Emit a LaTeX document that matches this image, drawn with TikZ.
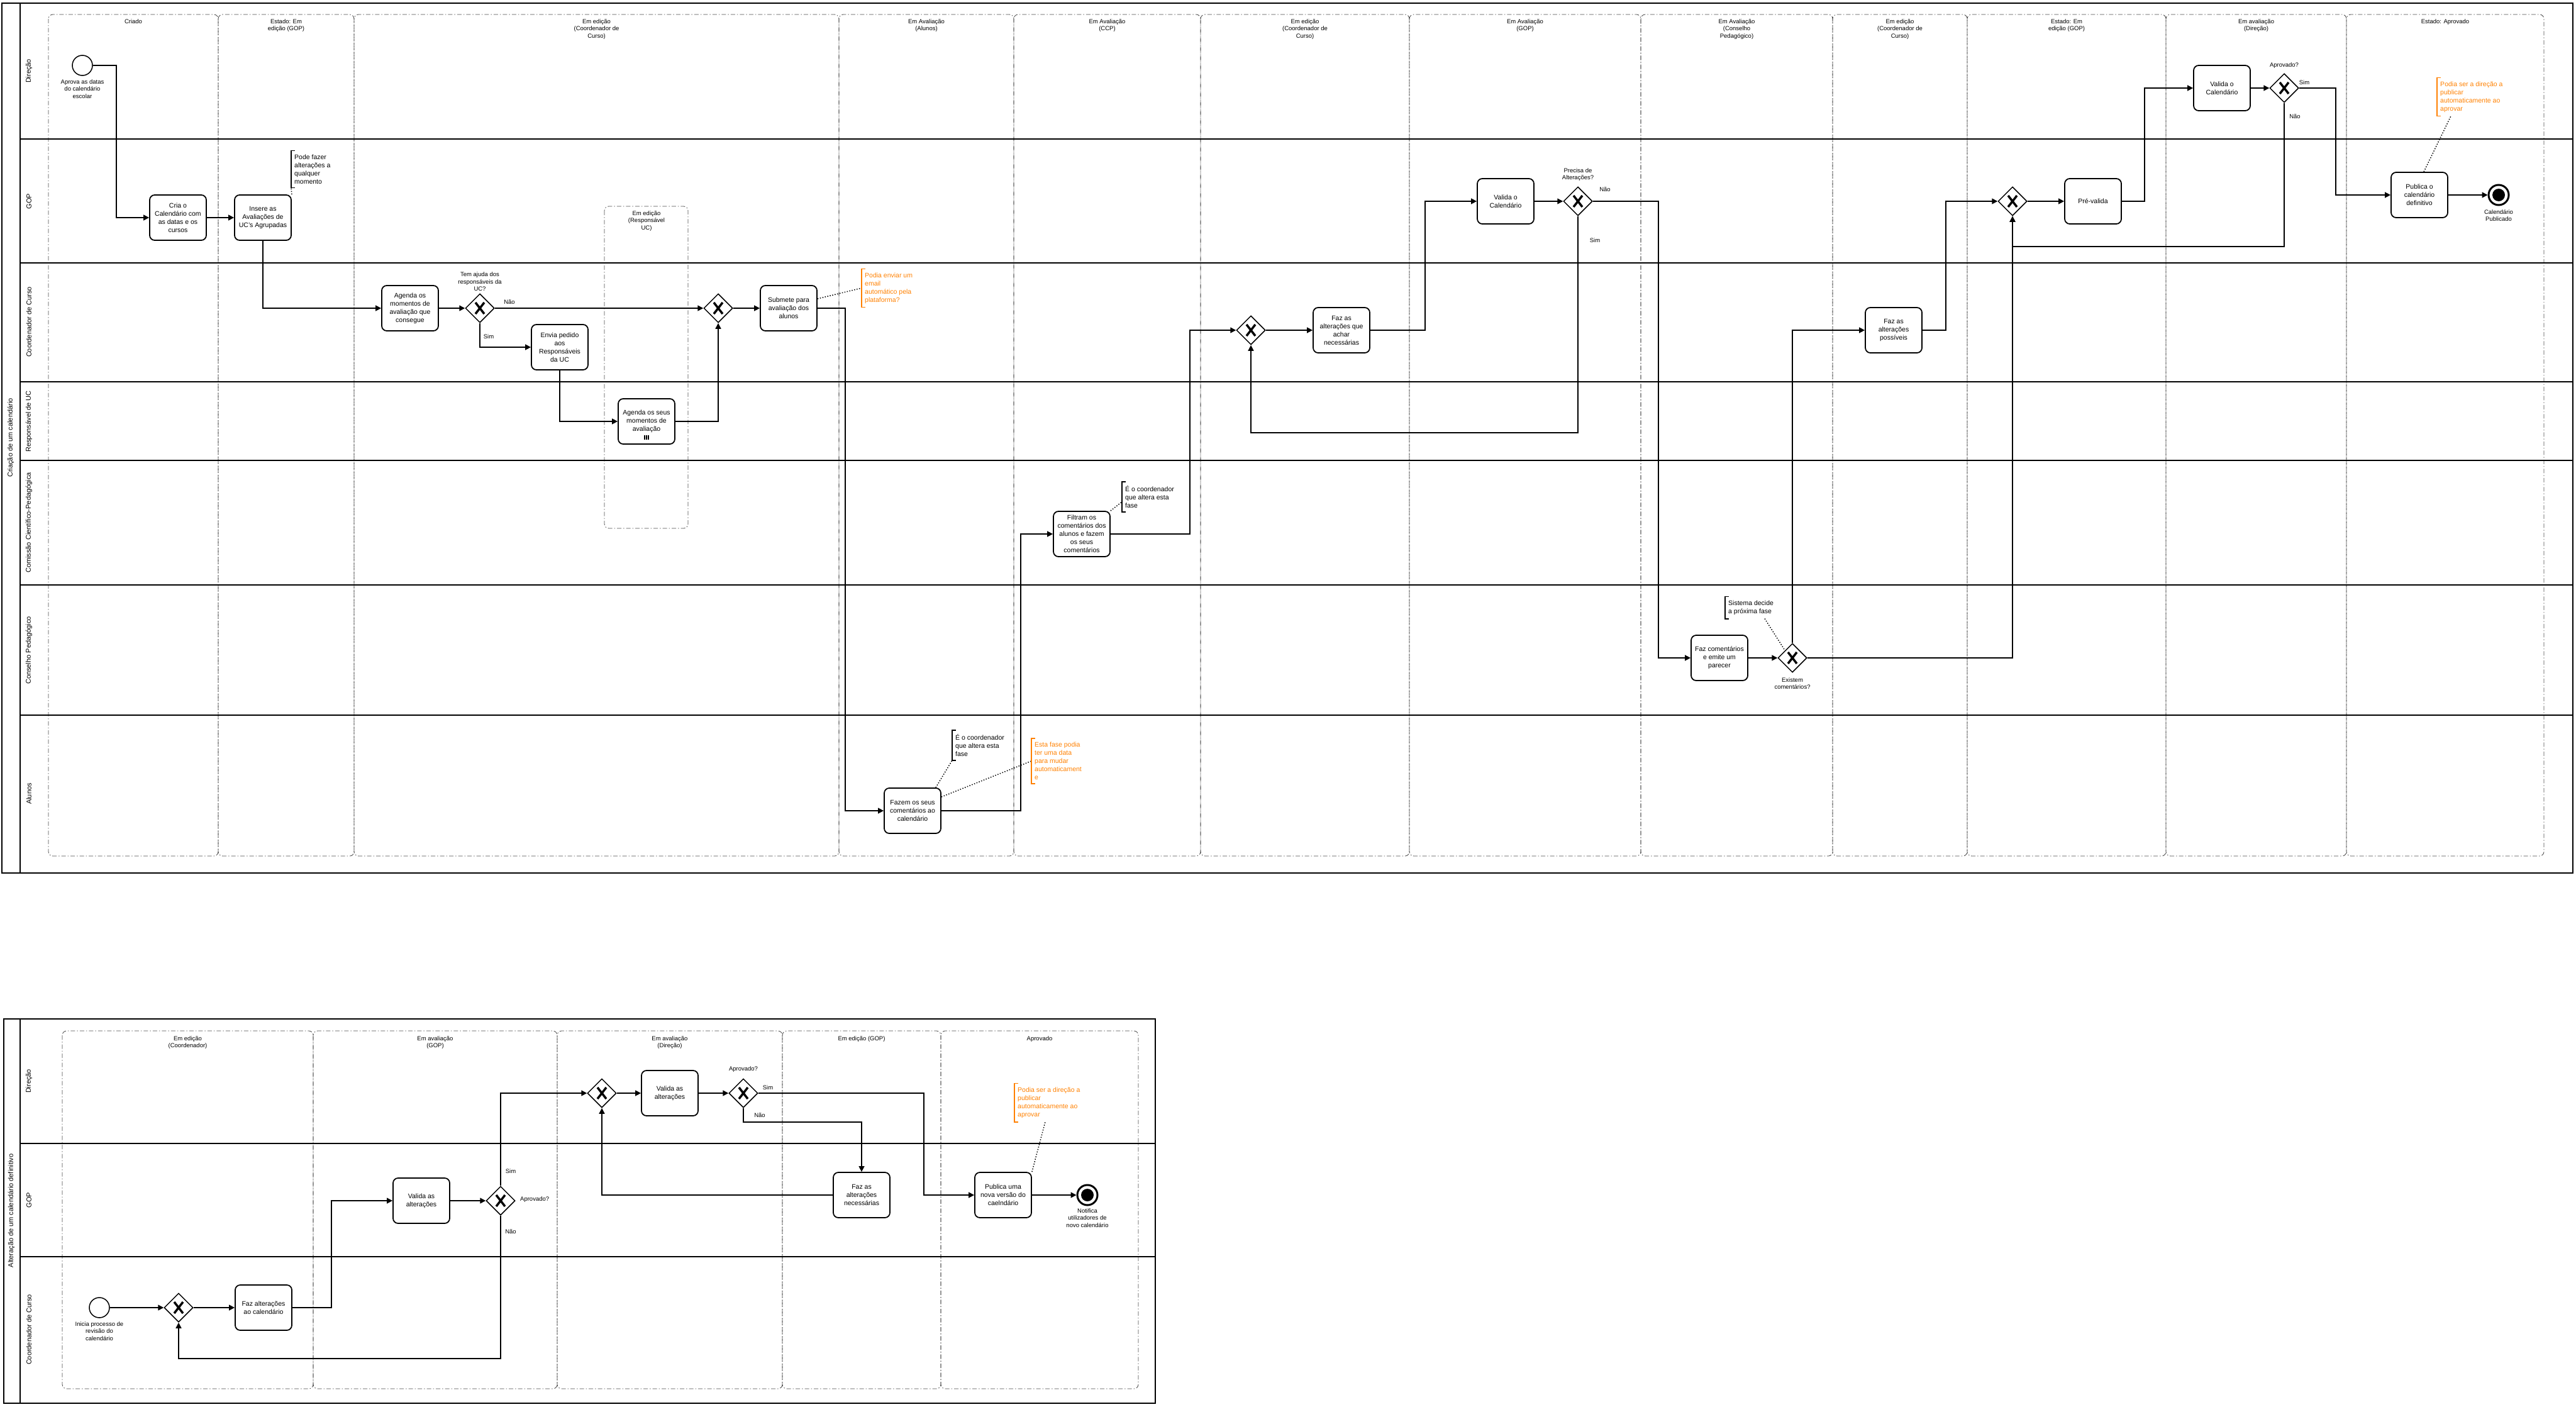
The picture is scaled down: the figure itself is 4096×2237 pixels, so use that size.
\documentclass[tikz,border=0pt]{standalone}
\usepackage{fontspec}
\setmainfont{Liberation Sans}
\usepackage{tikz}
\usetikzlibrary{calc}
\usetikzlibrary{positioning}
\usetikzlibrary{arrows.meta}
\usetikzlibrary{shapes.geometric}

\definecolor{noteorange}{RGB}{255,128,0}
\definecolor{phasegray}{RGB}{70,70,70}

\tikzset{
  pool/.style={draw, line width=2pt},
  laneline/.style={line width=2pt},
  lanelbl/.style={rotate=90, inner sep=0pt, font=\fontsize{11}{13}\selectfont},
  phase/.style={draw=phasegray, line width=0.8pt, rounded corners=7pt, dash pattern=on 7pt off 3pt on 1.5pt off 3pt},
  phaselbl/.style={anchor=north, align=center, inner sep=0pt, font=\fontsize{9.5}{11.5}\selectfont},
  task/.style={draw, line width=1.8pt, rounded corners=8pt, fill=white, minimum width=90pt, minimum height=72pt, align=center, inner sep=2pt, font=\fontsize{10.5}{13}\selectfont},
  gateway/.style={draw, diamond, line width=1.5pt, fill=white, minimum size=46pt, inner sep=0pt,
    path picture={\draw[line width=3.5pt] ([shift={(-7pt,-9pt)}]path picture bounding box.center) -- ([shift={(7pt,9pt)}]path picture bounding box.center)
      ([shift={(-7pt,9pt)}]path picture bounding box.center) -- ([shift={(7pt,-9pt)}]path picture bounding box.center);}},
  startev/.style={draw, circle, line width=1.5pt, fill=white, minimum size=32pt, inner sep=0pt},
  endev/.style={draw, circle, line width=3pt, fill=white, minimum size=32pt, inner sep=0pt,
    path picture={\fill[black] (path picture bounding box.center) circle (10pt);}},
  evlbl/.style={align=center, inner sep=0pt, font=\fontsize{9.5}{11.5}\selectfont},
  flowlbl/.style={inner sep=0pt, font=\fontsize{9.5}{11.5}\selectfont},
  flow/.style={line width=1.5pt, -{Triangle[length=9pt,width=9pt]}},
  assoc/.style={line width=1.5pt, dash pattern=on 1.5pt off 2.5pt},
  note/.style={anchor=west, align=left, inner xsep=5pt, inner ysep=6pt, font=\fontsize{10.5}{13}\selectfont},
  bracket/.style={line width=1.8pt},
}

\begin{document}
\begin{tikzpicture}[x=1pt,y=-1pt]
\useasboundingbox (0,0) rectangle (4096,2237);

\foreach \xa/\xb/\txt in {77/347/{Criado}, 347/563/{Estado: Em\\edição (GOP)}, 563/1334/{Em edição\\(Coordenador de\\Curso)},
  1334/1612/{Em Avaliação\\(Alunos)}, 1612/1909/{Em Avaliação\\(CCP)}, 1909/2241/{Em edição\\(Coordenador de\\Curso)},
  2241/2609/{Em Avaliação\\(GOP)}, 2609/2914/{Em Avaliação\\(Conselho\\Pedagógico)}, 2914/3128/{Em edição\\(Coordenador de\\Curso)},
  3128/3444/{Estado: Em\\edição (GOP)}, 3444/3731/{Em avaliação\\(Direção)}, 3731/4045/{Estado: Aprovado}}
{
\draw[phase] (\xa,23) rectangle (\xb,1361);
\node[phaselbl] (ph\xa) at ({(\xa+\xb)/2},30) {\txt};
}
\draw[phase] (961,328) rectangle (1094,840);
\node[phaselbl] (phResp) at (1028,335) {Em edição\\(Responsável\\UC)};

\draw[pool] (3,5) rectangle (4091,1388);
\draw[laneline] (32,5) -- (32,1388);
\foreach \ly in {221,418,607,732,930,1137}
\draw[laneline] (32,\ly) -- (4091,\ly);
\node[lanelbl] (poolA) at (17,696) {Criação de um calendário};
\foreach \ly/\lname in {113/Direção, 320/GOP, 512/Coordenador de Curso, 670/Responsável de UC,
  831/Comissão Científico-Pedagógica, 1034/Conselho Pedagógico, 1262/Alunos}
\node[lanelbl] (laneA\ly) at (46,\ly) {\lname};

\node[startev] (startA) at (131,104) {};
\node[evlbl, anchor=north] (lblStartA) at (131,126) {Aprova as datas\\do calendário\\escolar};
\node[task] (criaCal) at (283,346) {Cria o\\Calendário com\\as datas e os\\cursos};
\node[task] (insere) at (418,346) {Insere as\\Avaliações de\\UC's Agrupadas};
\node[task] (agenda) at (652,490) {Agenda os\\momentos de\\avaliação que\\consegue};
\node[gateway] (gwAjuda) at (763,490) {};
\node[evlbl, anchor=south] (lblAjuda) at (763,463) {Tem ajuda dos\\responsáveis da\\UC?};
\node[task] (envia) at (890,552) {Envia pedido\\aos\\Responsáveis\\da UC};
\node[task] (agSeus) at (1028,670) {Agenda os seus\\momentos de\\avaliação};
\node[gateway] (gwMerge) at (1142,490) {};
\node[task] (submete) at (1254,490) {Submete para\\avaliação dos\\alunos};
\node[task] (fazem) at (1451,1289) {Fazem os seus\\comentários ao\\calendário};
\node[task] (filtram) at (1720,849) {Filtram os\\comentários dos\\alunos e fazem\\os seus\\comentários};
\node[gateway] (gwAlt) at (1989,525) {};
\node[task] (fazAchar) at (2133,525) {Faz as\\alterações que\\achar\\necessárias};
\node[task] (validaGOP) at (2394,320) {Valida o\\Calendário};
\node[gateway] (gwPrecisa) at (2509,320) {};
\node[evlbl, anchor=south] (lblPrecisa) at (2509,288) {Precisa de\\Alterações?};
\node[task] (fazComent) at (2734,1046) {Faz comentários\\e emite um\\parecer};
\node[gateway] (gwExistem) at (2850,1046) {};
\node[evlbl, anchor=north] (lblExistem) at (2850,1077) {Existem\\comentários?};
\node[task] (fazPossiveis) at (3011,525) {Faz as\\alterações\\possíveis};
\node[gateway] (gwPre) at (3200,320) {};
\node[task] (prevalida) at (3328,320) {Pré-valida};
\node[task] (validaDir) at (3533,140) {Valida o\\Calendário};
\node[gateway] (gwAprov) at (3632,140) {};
\node[evlbl] (lblAprov) at (3632,104) {Aprovado?};
\node[task] (publica) at (3847,310) {Publica o\\calendário\\definitivo};
\node[endev] (endA) at (3973,310) {};
\node[evlbl, anchor=north] (lblEndA) at (3973,333) {Calendário\\Publicado};

\foreach \dx in {-3,0,3}
\draw[line width=1.2pt] ([xshift=\dx pt, yshift=8pt]agSeus.south) -- ++(0pt,7pt);

\node[flowlbl] (naoAjuda) at (810,480) {Não};
\node[flowlbl] (simAjuda) at (777,535) {Sim};
\node[flowlbl] (naoPrecisa) at (2552,301) {Não};
\node[flowlbl] (simPrecisa) at (2536,382) {Sim};
\node[flowlbl] (simAprov) at (3664,131) {Sim};
\node[flowlbl] (naoAprov) at (3649,185) {Não};

\node[note] (note1) at (463,269) {Pode fazer\\alterações a\\qualquer\\momento};
\node[note, text=noteorange] (noteEmail) at (1370,458) {Podia enviar um\\email\\automático pela\\plataforma?};
\node[note] (noteCoord1) at (1514,1185) {É o coordenador\\que altera esta\\fase};
\node[note, text=noteorange] (noteData) at (1640,1210) {Esta fase podia\\ter uma data\\para mudar\\automaticament\\e};
\node[note] (noteCoord2) at (1784,790) {É o coordenador\\que altera esta\\fase};
\node[note] (noteSistema) at (2743,966) {Sistema decide\\a próxima fase};
\node[note, text=noteorange] (noteDir) at (3875,154) {Podia ser a direção a\\publicar\\automaticamente ao\\aprovar};

\draw[flow] (startA.east) -- ++(37,0) |- (criaCal.west);
\draw[flow] (criaCal) -- (insere);
\draw[flow] (insere.south) |- (agenda.west);
\draw[flow] (agenda) -- (gwAjuda);
\draw[flow] (gwAjuda) -- (gwMerge);
\draw[flow] (gwAjuda.south) |- (envia.west);
\draw[flow] (envia.south) |- (agSeus.west);
\draw[flow] (agSeus.east) -| (gwMerge.south);
\draw[flow] (gwMerge) -- (submete);
\draw[flow] (submete.east) -- ++(44,0) |- (fazem.west);
\draw[flow] (fazem.east) -- ++(126,0) |- (filtram.west);
\draw[flow] (filtram.east) -- ++(126,0) |- (gwAlt.west);
\draw[flow] (gwAlt) -- (fazAchar);
\draw[flow] (fazAchar.east) -- ++(87,0) |- (validaGOP.west);
\draw[flow] (validaGOP) -- (gwPrecisa);
\draw[flow] (gwPrecisa.east) -- ++(104,0) |- (fazComent.west);
\draw[flow] (gwPrecisa.south) -- ++(0,344) -| (gwAlt.south);
\draw[flow] (fazComent) -- (gwExistem);
\draw[flow] (gwExistem.north) |- (fazPossiveis.west);
\draw[flow] (gwExistem.east) -| (gwPre.south);
\draw[flow] (fazPossiveis.east) -- ++(37,0) |- (gwPre.west);
\draw[flow] (gwPre) -- (prevalida);
\draw[flow] (prevalida.east) -- ++(36,0) |- (validaDir.west);
\draw[flow] (validaDir) -- (gwAprov);
\draw[flow] (gwAprov.east) -- ++(58,0) |- (publica.west);
\draw[flow] (gwAprov.south) -- ++(0,228) -| (gwPre.south);
\draw[flow] (publica) -- (endA);

\draw[assoc] (insere.north east) -- (note1.south west);
\draw[assoc] ([yshift=15pt]submete.east) -- (noteEmail.west);
\draw[assoc] ([xshift=-9pt]fazem.north east) -- (noteCoord1.south west);
\draw[assoc] ([yshift=22pt]fazem.east) -- (noteData.west);
\draw[assoc] (filtram.north east) -- ([yshift=16pt]noteCoord2.south west);
\draw[assoc] ([xshift=63pt]noteSistema.south west) -- (gwExistem.north west);
\draw[assoc] ([xshift=7pt]publica.north) -- ([xshift=22pt]noteDir.south west);

\foreach \nt in {note1, noteCoord1, noteCoord2, noteSistema}
\draw[bracket] ([xshift=6pt]\nt.north west) -- (\nt.north west) -- (\nt.south west) -- ([xshift=6pt]\nt.south west);
\foreach \nt in {noteEmail, noteData, noteDir}
\draw[bracket, noteorange] ([xshift=6pt]\nt.north west) -- (\nt.north west) -- (\nt.south west) -- ([xshift=6pt]\nt.south west);

\foreach \xa/\xb/\txt in {99/498/{Em edição\\(Coordenador)}, 498/886/{Em avaliação\\(GOP)}, 886/1244/{Em avaliação\\(Direção)},
  1244/1496/{Em edição (GOP)}, 1496/1810/{Aprovado}}
{
\draw[phase] (\xa,1639) rectangle (\xb,2208);
\node[phaselbl] (phB\xa) at ({(\xa+\xb)/2},1647) {\txt};
}

\draw[pool] (6,1620) rectangle (1837,2231);
\draw[laneline] (32,1620) -- (32,2231);
\foreach \ly in {1818,1998}
\draw[laneline] (32,\ly) -- (1837,\ly);
\node[lanelbl] (poolB) at (18,1925) {Alteração de um calendário definitivo};
\foreach \ly/\lname in {1719/Direção, 1908/GOP, 2114/Coordenador de Curso}
\node[lanelbl] (laneB\ly) at (46,\ly) {\lname};

\node[startev] (startB) at (158,2079) {};
\node[evlbl, anchor=north] (lblStartB) at (158,2101) {Inicia processo de\\revisão do\\calendário};
\node[gateway] (gwB1) at (284,2079) {};
\node[task] (fazAlt) at (419,2079) {Faz alterações\\ao calendário};
\node[task] (validaAlt) at (670,1909) {Valida as\\alterações};
\node[gateway] (gwB2) at (796,1909) {};
\node[evlbl, anchor=west] (lblB2) at (827,1907) {Aprovado?};
\node[gateway] (gwB3) at (957,1738) {};
\node[task] (validaAltDir) at (1065,1738) {Valida as\\alterações};
\node[gateway] (gwB4) at (1182,1738) {};
\node[evlbl] (lblB4) at (1182,1700) {Aprovado?};
\node[task] (fazNec) at (1370,1900) {Faz as\\alterações\\necessárias};
\node[task] (publicaNova) at (1595,1900) {Publica uma\\nova versão do\\caelndário};
\node[endev] (endB) at (1729,1900) {};
\node[evlbl, anchor=north] (lblEndB) at (1729,1921) {Notifica\\utilizadores de\\novo calendário};

\node[flowlbl] (simB2) at (812,1862) {Sim};
\node[flowlbl] (naoB2) at (812,1958) {Não};
\node[flowlbl] (simB4) at (1221,1729) {Sim};
\node[flowlbl] (naoB4) at (1208,1773) {Não};

\node[note, text=noteorange] (noteDirB) at (1613,1753) {Podia ser a direção a\\publicar\\automaticamente ao\\aprovar};
\draw[bracket, noteorange] ([xshift=6pt]noteDirB.north west) -- (noteDirB.north west) -- (noteDirB.south west) -- ([xshift=6pt]noteDirB.south west);
\draw[assoc] (publicaNova.north east) -- ([xshift=49pt]noteDirB.south west);

\draw[flow] (startB) -- (gwB1);
\draw[flow] (gwB1) -- (fazAlt);
\draw[flow] (fazAlt.east) -- ++(62,0) |- (validaAlt.west);
\draw[flow] (validaAlt) -- (gwB2);
\draw[flow] (gwB2.north) |- (gwB3.west);
\draw[flow] (gwB2.south) -- ++(0,227) -| (gwB1.south);
\draw[flow] (gwB3) -- (validaAltDir);
\draw[flow] (validaAltDir) -- (gwB4);
\draw[flow] (gwB4.east) -- ++(263,0) |- (publicaNova.west);
\draw[flow] (gwB4.south) -- ++(0,22) -| (fazNec.north);
\draw[flow] (fazNec.west) -| (gwB3.south);
\draw[flow] (publicaNova) -- (endB);
\end{tikzpicture}
\end{document}
